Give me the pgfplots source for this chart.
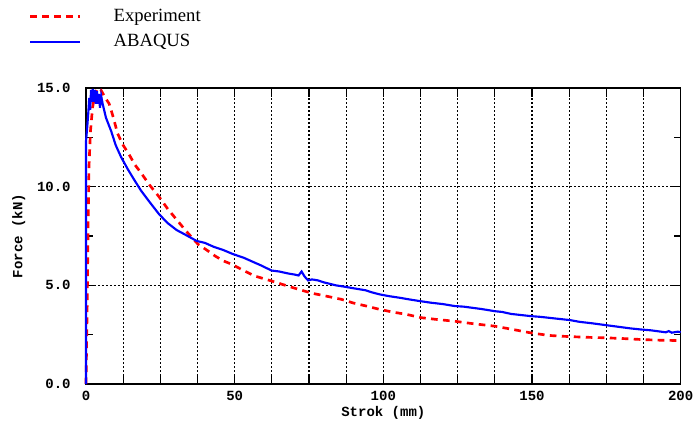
\documentclass[border=0pt]{standalone}
\usepackage{pgfplots}
\pgfplotsset{compat=1.18}
\usepackage{fontspec}
\setmainfont{Liberation Serif}
\setmonofont{Liberation Mono}
\begin{document}
\begin{tikzpicture}
\useasboundingbox (-64.5pt,-33pt) rectangle (456.75pt,288pt);
\begin{axis}[
  at={(0,0)}, anchor=south west,
  scale only axis,
  width=446pt, height=222pt,
  xmin=0, xmax=200, ymin=0, ymax=15,
  clip=false,
  axis line style={black, line width=0.9pt},
  xtick={0,12.5,...,200},
  xticklabels={0,,,,50,,,,100,,,,150,,,,200},
  ytick={0,5,10,15},
  yticklabels={0.0,5.0,10.0,15.0},
  minor ytick={2.5,7.5,12.5},
  tick align=inside,
  major tick length=7pt,
  minor tick length=5pt,
  tick style={black, line width=0.9pt},
  xmajorgrids, ymajorgrids,
  major grid style={black, line width=0.8pt, dash pattern=on 1.3pt off 1.7pt},
  ticklabel style={font=\ttfamily\bfseries\fontsize{10.5}{12}\selectfont},
  yticklabel style={xshift=-8pt},
  xticklabel style={yshift=-2pt},
  xlabel={Strok (mm)},
  ylabel={Force (kN)},
  label style={font=\ttfamily\bfseries\fontsize{10.5}{12}\selectfont},
  xlabel style={yshift=3pt},
  ylabel style={yshift=2pt},
  legend cell align=left,
  legend style={draw=none, fill=none, at={(0,1)}, anchor=north west,
    xshift=-46pt, yshift=63pt, row sep=4pt,
    /tikz/every odd column/.append style={column sep=22pt},
    font=\fontsize{14}{16}\selectfont},
  legend image code/.code={\draw[#1] (0pt,0pt) -- (37.5pt,0pt);},
]
\addplot[red, line width=2pt, dash pattern=on 5pt off 4pt] coordinates {
(0,0) (0.4,4) (0.7,8) (1.0,11) (1.5,12.8) (2.2,14) (3,14.7) (3.9,15.0) (5,14.9) (6.5,14.5) (7.8,14.2) (9.2,13.5) (10.6,12.7) (12.5,12.1) (14.6,11.6) (16.5,11.1) (18.5,10.7) (21.3,10.1) (24.5,9.5) (27.5,8.87) (30.8,8.27) (33.6,7.76) (37.7,7.08) (40.5,6.8) (43.4,6.49) (46,6.25) (49,6.07) (53,5.75) (56.8,5.47) (59.5,5.35) (62.4,5.22) (66,5.05) (71.4,4.8) (76,4.6) (80.9,4.45) (85.9,4.29) (90,4.1) (94.3,3.95) (98.8,3.78) (103,3.65) (107.7,3.53) (112.8,3.36) (118,3.27) (124,3.18) (130,3.06) (137.5,2.93) (143.7,2.76) (149.6,2.59) (155.8,2.46) (160,2.42) (164.7,2.39) (170,2.36) (175,2.34) (181,2.3) (187.3,2.25) (193,2.22) (200,2.2)
};
\addlegendentry{Experiment}
\addplot[blue, line width=1.6pt] coordinates {
(0,0) (0,12.3) (0.4,13.0) (0.8,13.8) (1.1,14.5) (1.4,13.9) (1.7,14.9) (2.0,14.3) (2.3,14.95) (2.7,14.3) (3.0,14.9) (3.3,14.2) (3.7,14.85) (4.0,14.2) (4.3,14.7) (4.7,14.0) (5.1,14.6) (5.6,14.2) (6.7,13.5) (8.5,12.8) (10,12.1) (11.8,11.5) (14,10.9) (16,10.4) (18.5,9.8) (21.5,9.2) (24.6,8.6) (27.5,8.15) (30.5,7.8) (33.6,7.55) (37.2,7.25) (40,7.15) (43,6.95) (46,6.8) (49.5,6.58) (53,6.4) (56,6.2) (59,6.0) (62.4,5.75) (65,5.7) (68,5.6) (70,5.55) (71.5,5.5) (72.5,5.7) (73.5,5.45) (74.7,5.25) (76,5.3) (78,5.25) (80,5.15) (84,5.0) (87,4.93) (90,4.85) (92,4.8) (94,4.75) (96,4.65) (98.8,4.54) (102,4.45) (105.5,4.37) (109,4.28) (112.3,4.2) (116,4.12) (120,4.05) (124,3.95) (127,3.92) (130,3.86) (133,3.8) (137.5,3.69) (140,3.65) (143,3.55) (146,3.5) (149.6,3.44) (153,3.4) (156,3.35) (159,3.3) (162.7,3.24) (166,3.15) (170,3.08) (175,2.98) (179,2.9) (183,2.82) (186.8,2.76) (190,2.72) (193,2.66) (195,2.62) (196,2.68) (197,2.6) (199,2.65) (200,2.63)
};
\addlegendentry{ABAQUS}
\end{axis}
\end{tikzpicture}
\end{document}
